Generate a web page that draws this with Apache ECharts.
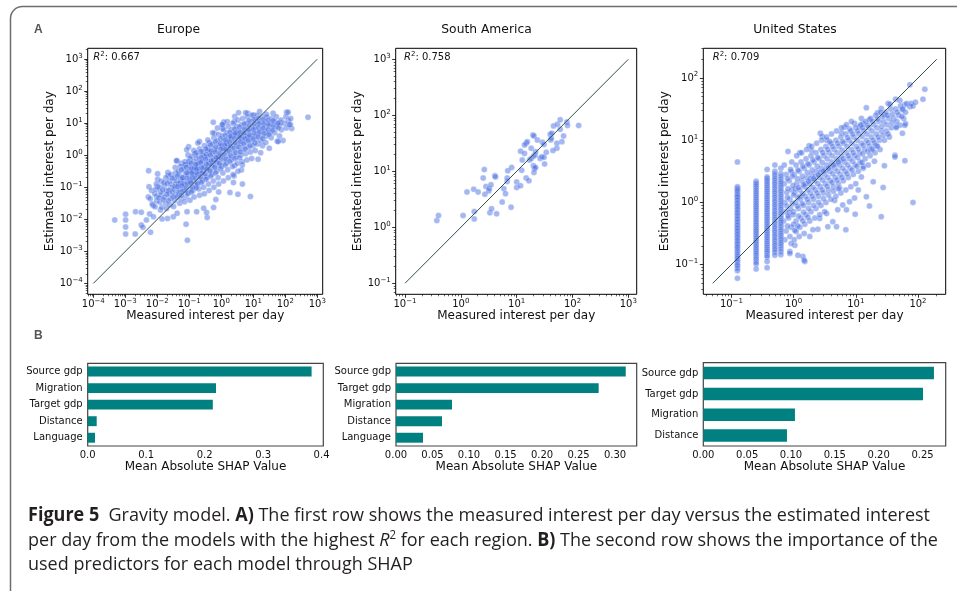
<!DOCTYPE html>
<html>
<head>
<meta charset="utf-8">
<script src="https://cdn.jsdelivr.net/npm/echarts@6/dist/echarts.min.js"></script>
<style>
  html, body { margin: 0; padding: 0; background: #fff; }
  #chart { width: 957px; height: 591px; }
</style>
</head>
<body>
<div id="chart"></div>
<script>
// ---- data (scatter points are stored as [log10 measured, log10 estimated]) ----
const regions = ['Europe', 'South America', 'United States']
const r2Values = ['0.667', '0.758', '0.709']

const europeLog = [
  [-3.33,-2.02],[-2.99,-1.84],[-2.99,-2.02],[-2.99,-2.24],[-2.99,-2.46],[-2.69,-2.46],[-2.68,-1.76],[-2.5,-1.78],[-2.5,-2.18],[-2.45,-2.25],
  [-2.34,-2.02],[-2.24,-1.83],[-2.28,-1.3],[-2.26,-0.98],[-2.27,-0.48],[-2.21,-2.4],[-1.99,-0.58],[-1.99,-0.75],[-1.99,-0.98],[-2.02,-1.29],
  [-2.13,-1.57],[-2.12,-1.92],[-1.9,-1.71],[-1.85,-1.99],[-1.68,-1.97],[-1.67,-0.54],[-1.66,-0.63],[-1.4,-0.17],[-1.44,-0.38],[-1.5,-1.92],
  [-1.38,-1.81],[-1.1,-2.15],[-1.06,-2.65],[-1.07,-1.76],[-0.77,-1.76],[-0.55,-1.65],[-0.44,-1.94],[-0.46,-1.79],[-0.24,-1.63],[-0.17,-1.38],
  [-0.08,-1.15],[0.27,-1.16],[0.52,-1.22],[0.66,-0.9],[0.91,-1.29],[0.38,-0.85],[0.4,-0.65],[0.63,-0.46],[0.66,-0.3],[0.42,-0.32],
  [1.15,-0.12],[1.23,0.08],[1.5,0.22],[1.75,0.44],[1.93,0.46],[2.2,0.84],[2.16,0.96],[2.1,1.08],[2.04,1.34],[2.71,1.19],
  [1.84,1.02],[1.62,1.31],[1.41,1.28],[1.2,1.37],[1.01,1.26],[0.83,1.31],[0.76,1.33],[0.54,1.33],[0.42,1.21],[0.4,1.05],
  [0.19,1.05],[0.08,1.04],[0.04,0.96],[-0.25,1.03],[0.04,0.84],[-0.21,0.69],[-0.42,0.48],[-0.68,0.43],[-0.73,0.38],[-1.02,0.27],
  [-1.08,0.17],[-1.04,0.01],[-1.39,-0.17],[-1.25,-0.25],[-1.15,-0.3],[-0.92,-0.04],[-0.81,-0.46],[2.09,1.34],[1.78,0.43],
  [-2.18,-1.1],[-2.22,-1.36],[-2.16,-1.52],[-2.03,-0.9],[-2.08,-1.2],[-2.02,-1.43],[-2.07,-1.61],[-2.04,-1.06],
  [-1.88,-0.81],[-1.93,-1.0],[-1.87,-1.24],[-1.92,-1.46],[-1.9,-1.15],[-1.86,-1.62],
  [-1.73,-0.7],[-1.78,-0.95],[-1.72,-1.1],[-1.77,-1.31],[-1.74,-1.5],[-1.79,-0.85],[-1.71,-1.66],
  [-1.58,-0.6],[-1.62,-0.8],[-1.57,-1.01],[-1.63,-1.19],[-1.59,-1.35],[-1.61,-1.55],[-1.56,-0.9],[-1.64,-1.1],
  [-1.43,-0.55],[-1.47,-0.71],[-1.42,-0.9],[-1.48,-1.05],[-1.44,-1.25],[-1.46,-1.41],[-1.41,-0.8],[-1.49,-1.6],[-1.45,-0.98],
  [-1.28,-0.35],[-1.32,-0.6],[-1.27,-0.76],[-1.33,-0.9],[-1.29,-1.05],[-1.31,-1.2],[-1.26,-1.36],[-1.34,-0.5],[-1.3,-1.5],[-1.28,-0.86],
  [-1.13,-0.3],[-1.17,-0.45],[-1.12,-0.6],[-1.18,-0.8],[-1.14,-0.95],[-1.16,-1.1],[-1.11,-1.3],[-1.19,-0.7],[-1.15,-1.45],[-1.13,-0.2],[-1.17,-0.9],
  [-0.98,-0.1],[-1.02,-0.3],[-0.97,-0.45],[-1.03,-0.6],[-0.99,-0.75],[-1.01,-0.9],[-0.96,-1.05],[-1.04,-1.2],[-1.0,-0.5],[-0.98,-1.4],[-1.02,-0.2],[-0.97,-0.8],
  [-0.83,0.05],[-0.87,-0.2],[-0.82,-0.35],[-0.88,-0.5],[-0.84,-0.65],[-0.86,-0.8],[-0.81,-0.95],[-0.89,-1.1],[-0.85,-1.3],[-0.83,-0.4],[-0.87,-0.6],[-0.86,0.15],
  [-0.68,0.2],[-0.72,0.0],[-0.67,-0.15],[-0.73,-0.3],[-0.69,-0.45],[-0.71,-0.6],[-0.66,-0.75],[-0.74,-0.9],[-0.7,-1.05],[-0.68,-1.25],[-0.72,-0.25],[-0.69,-0.5],
  [-0.53,0.3],[-0.57,0.1],[-0.52,-0.05],[-0.58,-0.2],[-0.54,-0.35],[-0.56,-0.5],[-0.51,-0.65],[-0.59,-0.8],[-0.55,-1.0],[-0.53,-1.2],[-0.57,0.0],[-0.54,-0.4],
  [-0.38,0.4],[-0.42,0.25],[-0.37,0.1],[-0.43,-0.05],[-0.39,-0.2],[-0.41,-0.35],[-0.36,-0.5],[-0.44,-0.7],[-0.4,-0.9],[-0.38,-1.1],[-0.42,0.15],[-0.39,-0.25],
  [-0.23,0.55],[-0.27,0.35],[-0.22,0.2],[-0.28,0.05],[-0.24,-0.1],[-0.26,-0.25],[-0.21,-0.4],[-0.29,-0.6],[-0.25,-0.8],[-0.23,-1.0],[-0.27,0.7],[-0.24,-0.15],
  [-0.08,0.65],[-0.12,0.45],[-0.07,0.3],[-0.13,0.15],[-0.09,0.0],[-0.11,-0.15],[-0.06,-0.3],[-0.14,-0.5],[-0.1,-0.7],[-0.08,-0.9],[-0.12,0.85],[-0.09,-0.05],
  [0.07,0.8],[0.03,0.6],[0.08,0.45],[0.02,0.3],[0.06,0.15],[0.04,0.0],[0.09,-0.15],[0.01,-0.35],[0.05,-0.55],[0.07,-0.8],[0.03,0.95],[0.06,0.2],
  [0.22,0.9],[0.18,0.7],[0.23,0.55],[0.17,0.4],[0.21,0.25],[0.19,0.1],[0.24,-0.05],[0.16,-0.25],[0.2,-0.45],[0.22,-0.7],[0.18,0.35],
  [0.37,1.0],[0.33,0.8],[0.38,0.65],[0.32,0.5],[0.36,0.35],[0.34,0.2],[0.39,0.05],[0.31,-0.15],[0.35,-0.35],[0.37,-0.6],[0.33,0.6],
  [0.52,1.1],[0.48,0.9],[0.53,0.75],[0.47,0.6],[0.51,0.45],[0.49,0.3],[0.54,0.15],[0.46,-0.05],[0.5,-0.25],[0.52,-0.5],[0.48,0.7],
  [0.67,1.15],[0.63,0.95],[0.68,0.8],[0.62,0.65],[0.66,0.5],[0.64,0.35],[0.69,0.2],[0.61,0.0],[0.65,-0.2],[0.63,0.55],
  [0.82,1.2],[0.78,1.0],[0.83,0.85],[0.77,0.7],[0.81,0.55],[0.79,0.4],[0.84,0.25],[0.76,0.05],[0.8,-0.15],[0.82,0.6],
  [0.97,1.25],[0.93,1.05],[0.98,0.9],[0.92,0.75],[0.96,0.6],[0.94,0.45],[0.99,0.3],[0.91,0.1],[0.95,-0.1],
  [1.12,1.25],[1.08,1.1],[1.13,0.95],[1.07,0.8],[1.11,0.65],[1.09,0.5],[1.14,0.35],[1.06,0.15],
  [1.27,1.2],[1.23,1.05],[1.28,0.9],[1.22,0.75],[1.26,0.6],[1.24,0.45],[1.29,0.3],
  [1.42,1.2],[1.38,1.05],[1.43,0.9],[1.37,0.75],[1.41,0.6],[1.39,0.4],
  [1.57,1.15],[1.53,1.0],[1.58,0.85],[1.52,0.7],[1.56,0.55],
  [1.72,1.2],[1.68,1.05],[1.73,0.9],[1.67,0.7],
  [1.87,1.1],[1.83,0.95],[1.88,0.8],[1.82,0.6],
  [2.02,1.2],[1.98,1.0],[2.03,0.85],[2.17,1.15],[2.13,0.95],
  [-1.95,-1.32],[-1.83,-1.08],[-1.81,-1.38],[-1.69,-0.88],[-1.7,-1.22],[-1.65,-1.42],[-1.53,-0.72],[-1.52,-1.15],[-1.51,-1.3],[-1.37,-0.65],
  [-1.36,-0.98],[-1.35,-1.15],[-1.38,-1.3],[-1.24,-0.45],[-1.22,-0.7],[-1.23,-0.95],[-1.21,-1.12],[-1.25,-1.25],
  [-1.09,-0.38],[-1.08,-0.55],[-1.07,-0.72],[-1.06,-0.88],[-1.1,-1.02],[-1.05,-1.18],[-0.94,-0.25],[-0.93,-0.4],[-0.92,-0.55],[-0.91,-0.7],
  [-0.95,-0.85],[-0.9,-1.0],[-0.93,-1.15],[-0.78,-0.1],[-0.79,-0.28],[-0.77,-0.42],[-0.76,-0.58],[-0.8,-0.72],[-0.75,-0.88],[-0.78,-1.02],[-0.79,0.08],
  [-0.63,0.12],[-0.62,-0.08],[-0.64,-0.22],[-0.61,-0.38],[-0.6,-0.55],[-0.65,-0.68],[-0.62,-0.85],[-0.48,0.2],[-0.47,0.02],[-0.49,-0.12],
  [-0.46,-0.28],[-0.45,-0.43],[-0.5,-0.58],[-0.48,-0.75],[-0.33,0.32],[-0.32,0.14],[-0.34,0.0],[-0.31,-0.17],[-0.3,-0.32],[-0.35,-0.48],
  [-0.33,-0.65],[-0.18,0.42],[-0.17,0.26],[-0.19,0.1],[-0.16,-0.06],[-0.15,-0.22],[-0.2,-0.37],[-0.18,-0.55],[-0.02,0.52],[-0.03,0.36],
  [-0.01,0.2],[-0.04,0.05],[0.0,-0.1],[-0.05,-0.25],[-0.02,-0.42],
  [0.12,0.62],[0.13,0.48],[0.11,0.32],[0.14,0.18],[0.1,0.02],[0.15,-0.12],[0.12,-0.3],[0.27,0.72],[0.28,0.58],[0.26,0.42],
  [0.29,0.28],[0.25,0.12],[0.3,-0.02],[0.27,-0.2],[0.42,0.82],[0.43,0.68],[0.41,0.52],[0.44,0.38],[0.4,0.22],[0.45,0.08],
  [0.42,-0.1],[0.57,0.88],[0.58,0.72],[0.56,0.58],[0.59,0.42],[0.55,0.26],[0.6,0.1],[0.57,-0.08],[0.72,0.98],[0.73,0.82],
  [0.71,0.68],[0.74,0.52],[0.7,0.36],[0.75,0.2],
  [0.87,1.08],[0.88,0.92],[0.86,0.78],[0.89,0.62],[0.85,0.46],[0.9,0.3],[1.02,1.12],[1.03,0.98],[1.01,0.82],[1.04,0.68],
  [1.0,0.52],[1.05,0.38],[1.17,1.15],[1.18,1.0],[1.16,0.86],[1.19,0.72],[1.15,0.58],[1.32,1.12],[1.33,0.98],[1.31,0.84],
  [1.34,0.68],[1.3,0.52],[1.47,1.1],[1.48,0.95],[1.46,0.8],[1.49,0.65],[1.62,1.08],[1.63,0.92],[1.61,0.78],[1.77,1.0],[1.78,0.85]
]

const southAmericaLog = [
  [-0.43,0.12],[-0.40,0.21],[0.04,0.21],[0.24,0.28],[0.24,0.15],[0.52,0.26],[0.55,0.33],[0.64,0.24],[0.74,0.45],[0.90,0.36],
  [0.11,0.63],[0.23,0.68],[0.31,0.63],[0.43,0.59],[0.45,0.73],[0.50,0.65],[0.51,0.69],[0.54,0.76],[0.40,0.88],[0.42,1.03],
  [0.61,0.92],[0.62,0.90],[0.77,0.69],[0.80,0.60],[0.83,0.82],[0.83,0.88],[0.84,1.01],[0.91,1.07],[1.00,0.81],[1.00,0.71],
  [1.07,0.74],[1.09,1.02],[1.17,0.88],[1.22,0.83],[1.10,1.20],[1.07,1.36],[1.14,1.32],[1.17,1.50],[1.19,1.53],[1.14,1.47],
  [1.26,1.41],[1.29,1.65],[1.31,1.63],[1.37,1.56],[1.23,1.20],[1.26,1.23],[1.30,1.27],[1.33,1.29],[1.34,1.35],[1.30,1.10],
  [1.32,1.05],[1.31,0.98],[1.34,1.07],[1.42,1.23],[1.45,1.26],[1.49,1.25],[1.50,1.13],[1.46,1.52],[1.49,1.48],[1.53,1.34],
  [1.60,1.66],[1.63,1.68],[1.61,1.56],[1.62,1.59],[1.66,1.81],[1.73,1.84],[1.78,1.92],[1.78,1.75],[1.84,1.63],[1.81,1.53],
  [1.72,1.50],[1.72,1.41],[1.65,1.37],[1.90,1.88],[1.91,1.82],[2.11,1.82]
]

// United States: measured values of the small regions sit on fixed steps (1/8 per day)
const usColumnX = [0.125, 0.25, 0.375, 0.5, 0.625]
const usColumnLogY = [
  [0.65,0.25,0.23,0.21,0.19,0.17,0.14,0.12,0.1,0.08,0.05,0.03,0.0,-0.02,-0.05,-0.07,-0.1,-0.12,-0.15,-0.17,-0.2,-0.22,-0.25,-0.27,-0.3,-0.32,-0.35,-0.37,-0.4,
   -0.42,-0.45,-0.47,-0.5,-0.52,-0.55,-0.57,-0.6,-0.62,-0.65,-0.67,-0.7,-0.72,-0.75,-0.78,-0.81,-0.84,-0.87,-0.9,-0.93,-0.96,-1.0,-1.02,-1.06,-1.1,-1.22],
  [0.34,0.31,0.29,0.26,0.23,0.2,0.17,0.14,0.11,0.08,0.05,0.02,-0.01,-0.04,-0.07,-0.1,-0.13,-0.16,-0.19,-0.22,-0.25,-0.28,-0.31,-0.34,-0.37,-0.4,-0.43,
   -0.46,-0.49,-0.52,-0.55,-0.58,-0.61,-0.64,-0.67,-0.7,-0.73,-0.76,-0.79,-0.82,-0.85,-0.89,-0.92,-0.96,-0.99,-1.07],
  [0.53,0.41,0.39,0.36,0.33,0.3,0.27,0.24,0.21,0.18,0.15,0.12,0.09,0.06,0.03,0.0,-0.03,-0.06,-0.09,-0.12,-0.15,-0.18,-0.21,-0.24,-0.27,-0.3,-0.33,-0.36,
   -0.39,-0.42,-0.45,-0.48,-0.51,-0.54,-0.57,-0.6,-0.63,-0.66,-0.69,-0.72,-0.75,-0.78,-0.81,-0.85,-0.88,-0.95,-1.05],
  [0.6,0.5,0.46,0.43,0.39,0.36,0.32,0.29,0.25,0.22,0.18,0.15,0.11,0.08,0.04,0.01,-0.03,-0.06,-0.1,-0.13,-0.17,-0.2,-0.24,-0.27,-0.31,-0.34,-0.38,-0.41,
   -0.45,-0.48,-0.52,-0.55,-0.59,-0.62,-0.66,-0.69,-0.73,-0.76,-0.8,-0.85],
  [0.55,0.46,0.42,0.38,0.34,0.31,0.27,0.24,0.2,0.17,0.13,0.1,0.06,0.03,-0.01,-0.04,-0.08,-0.11,-0.15,-0.18,-0.22,-0.25,-0.29,-0.32,-0.36,-0.39,-0.43,
   -0.46,-0.5,-0.53,-0.57,-0.6,-0.64,-0.67,-0.71,-0.75,-0.79,-0.84]
]
const unitedStatesLog = [
  [-0.09,0.82],[-0.05,0.53],[0.1,0.8],[0.25,0.91],[0.29,0.83],[0.43,1.11],[0.46,1.06],[0.53,1.0],[0.58,0.98],[0.77,1.12],
  [0.82,1.21],[0.9,1.18],[0.98,1.27],[1.06,1.22],[1.12,1.27],[1.17,1.52],[1.22,1.33],[1.35,1.44],[1.41,1.51],[1.46,1.41],
  [1.52,1.59],[1.55,1.58],[1.64,1.66],[1.71,1.64],[1.76,1.49],[1.79,1.57],[1.82,1.59],[1.87,1.54],[1.89,1.59],[1.92,1.55],
  [1.96,1.61],[2.08,1.66],[2.11,1.82],[1.87,1.89],[1.65,1.22],[1.63,0.76],[1.63,0.73],[1.71,1.24],[1.75,1.11],[1.8,1.27],
  [1.79,0.67],[1.46,0.59],[1.44,0.24],[1.92,0.0],[1.22,-0.06],[1.41,-0.23],[0.99,-0.19],[0.85,-0.12],[0.79,-0.04],[1.09,0.41],
  [1.17,0.09],[1.28,0.33],[1.3,0.66],[1.25,0.84],[1.04,0.2],[0.98,0.07],[0.69,-0.39],[0.55,-0.39],[0.39,-0.43],[0.31,-0.44],
  [0.15,-0.87],[0.07,-0.85],[0.02,-0.69],[-0.04,-0.66],[-0.06,-0.79],[0.18,-0.95],[0.04,-0.47],[0.26,-0.55],[0.63,-0.31],[0.42,-0.26],
  [0.9,0.01],[0.71,-0.12],[0.66,0.03],[0.53,-0.18],[0.74,0.23],[1.12,0.58],[1.33,0.92],[0.84,-0.44],[0.17,-0.93],[-0.06,-0.82],[1.79,1.24],
  [-0.12,0.45],[-0.15,0.3],[-0.11,0.16],[-0.14,0.0],[-0.13,-0.15],[-0.16,-0.3],[-0.12,-0.46],[-0.14,-0.6],[-0.15,0.6],
  [-0.04,0.5],[-0.07,0.35],[-0.03,0.2],[-0.06,0.05],[-0.05,-0.1],[-0.08,-0.25],[-0.04,-0.4],[-0.06,-0.55],[-0.03,0.65],[-0.07,-0.16],
  [0.04,0.6],[0.01,0.45],[0.05,0.3],[0.02,0.15],[0.03,0.0],[0.0,-0.15],[0.04,-0.3],[0.02,-0.45],[0.05,0.75],[0.01,-0.6],[0.03,0.22],
  [0.12,0.65],[0.09,0.5],[0.13,0.35],[0.1,0.2],[0.11,0.05],[0.08,-0.1],[0.12,-0.25],[0.1,-0.4],[0.13,0.8],[0.09,-0.55],[0.11,0.1],
  [0.2,0.7],[0.17,0.55],[0.21,0.4],[0.18,0.25],[0.19,0.1],[0.16,-0.05],[0.2,-0.2],[0.18,-0.35],[0.21,0.85],[0.17,-0.5],[0.19,0.3],
  [0.28,0.75],[0.25,0.6],[0.29,0.45],[0.26,0.3],[0.27,0.15],[0.24,0.0],[0.28,-0.15],[0.26,-0.3],[0.29,0.9],[0.27,0.38],
  [0.36,0.8],[0.33,0.65],[0.37,0.5],[0.34,0.35],[0.35,0.2],[0.32,0.05],[0.36,-0.1],[0.34,-0.25],[0.37,0.95],[0.35,0.42],
  [0.44,0.85],[0.41,0.7],[0.45,0.55],[0.42,0.4],[0.43,0.25],[0.4,0.1],[0.44,-0.05],[0.42,-0.2],[0.45,1.0],[0.43,0.48],
  [0.52,0.9],[0.49,0.75],[0.53,0.6],[0.5,0.45],[0.51,0.3],[0.48,0.15],[0.52,0.0],[0.5,-0.15],[0.53,1.05],[0.51,0.52],
  [0.6,0.95],[0.57,0.8],[0.61,0.65],[0.58,0.5],[0.59,0.35],[0.56,0.2],[0.6,0.05],[0.61,1.1],[0.59,0.58],
  [0.68,1.0],[0.65,0.85],[0.69,0.7],[0.66,0.55],[0.67,0.4],[0.64,0.25],[0.68,0.1],[0.69,1.15],[0.67,0.62],
  [0.76,1.05],[0.73,0.9],[0.77,0.75],[0.74,0.6],[0.75,0.45],[0.72,0.3],[0.76,0.15],[0.77,1.2],[0.75,0.68],
  [0.84,1.1],[0.81,0.95],[0.85,0.8],[0.82,0.65],[0.83,0.5],[0.8,0.35],[0.84,0.2],[0.85,1.25],
  [0.92,1.15],[0.89,1.0],[0.93,0.85],[0.9,0.7],[0.91,0.55],[0.88,0.4],[0.92,0.25],[0.93,1.3],
  [1.0,1.2],[0.97,1.05],[1.01,0.9],[0.98,0.75],[0.99,0.6],[0.96,0.45],[1.0,0.3],
  [1.08,1.25],[1.05,1.1],[1.09,0.95],[1.06,0.8],[1.07,0.65],[1.04,0.5],[1.09,1.35],
  [1.16,1.3],[1.13,1.15],[1.17,1.0],[1.14,0.85],[1.15,0.7],[1.12,0.55],
  [1.24,1.35],[1.21,1.2],[1.25,1.05],[1.22,0.9],[1.23,0.75],[1.2,0.6],
  [1.32,1.4],[1.29,1.25],[1.33,1.1],[1.3,0.95],[1.31,0.8],
  [1.4,1.45],[1.37,1.3],[1.41,1.15],[1.38,1.0],[1.39,0.85],
  [1.48,1.45],[1.45,1.3],[1.49,1.15],[1.46,1.0],
  [1.56,1.5],[1.53,1.35],[1.57,1.2],[1.54,1.05],
  [1.64,1.5],[1.61,1.35],[1.65,1.2],[1.72,1.55],[1.69,1.4],[1.8,1.45],[1.77,1.35],
  [-0.1,0.38],[-0.09,0.22],[-0.1,0.08],[-0.11,-0.06],[-0.09,-0.22],[-0.1,-0.38],[-0.02,0.42],[-0.01,0.27],[0.0,0.12],[-0.02,-0.02],
  [-0.01,-0.2],[0.0,-0.35],[0.07,0.52],[0.06,0.38],[0.08,0.24],[0.07,0.08],[0.06,-0.06],[0.08,-0.22],[0.07,-0.38],[0.15,0.58],
  [0.14,0.42],[0.16,0.28],[0.15,0.14],[0.14,-0.02],[0.16,-0.16],[0.15,-0.3],[0.23,0.62],[0.22,0.48],[0.24,0.34],[0.23,0.2],
  [0.22,0.05],[0.24,-0.1],[0.23,-0.24],
  [0.31,0.68],[0.3,0.52],[0.32,0.38],[0.31,0.24],[0.3,0.1],[0.32,-0.05],[0.39,0.72],[0.38,0.58],[0.4,0.44],[0.39,0.3],
  [0.38,0.15],[0.4,0.0],[0.47,0.8],[0.46,0.64],[0.48,0.5],[0.47,0.36],[0.46,0.2],[0.48,0.06],[0.55,0.85],[0.54,0.7],
  [0.56,0.55],[0.55,0.4],[0.54,0.26],[0.56,0.12],[0.63,0.9],[0.62,0.75],[0.64,0.6],[0.63,0.46],[0.62,0.32],[0.64,0.18],
  [0.71,0.95],[0.7,0.8],[0.72,0.65],[0.71,0.5],[0.7,0.36],[0.72,0.22],[0.79,0.98],[0.78,0.84],[0.8,0.7],[0.79,0.55],
  [0.78,0.4],[0.87,1.04],[0.86,0.9],[0.88,0.75],[0.87,0.6],[0.86,0.46],
  [0.95,1.1],[0.94,0.95],[0.96,0.8],[0.95,0.66],[0.94,0.52],[1.03,1.15],[1.02,1.0],[1.04,0.86],[1.03,0.72],[1.02,0.58],
  [1.11,1.2],[1.1,1.06],[1.12,0.92],[1.11,0.78],[1.1,0.64],[1.19,1.24],[1.18,1.1],[1.2,0.96],[1.19,0.82],[1.27,1.3],
  [1.26,1.15],[1.28,1.0],[1.27,0.86],[1.35,1.34],[1.34,1.2],[1.36,1.05],[1.35,0.9],[1.43,1.38],[1.42,1.22],[1.44,1.08],
  [1.51,1.4],[1.5,1.25],[1.52,1.1],[1.59,1.42],[1.58,1.28],[1.67,1.45],[1.66,1.3],[1.75,1.5],[1.74,1.38]
]

// identity line end points (measured = estimated)
const diagonalEnds = [[1e-4, 1e3], [0.1, 1e3], [0.05, 200]]

// decade ticks
const europeTicks = [1e-4, 1e-3, 1e-2, 1e-1, 1, 10, 100, 1000]
const southAmericaTicks = [0.1, 1, 10, 100, 1000]
const unitedStatesTicks = [0.1, 1, 10, 100]

// SHAP importances
const europeFeatures = ['Source gdp', 'Migration', 'Target gdp', 'Distance', 'Language']
const europeShap = [0.383, 0.2195, 0.214, 0.0154, 0.0125]
const southAmericaFeatures = ['Source gdp', 'Target gdp', 'Migration', 'Distance', 'Language']
const southAmericaShap = [0.3147, 0.2776, 0.0767, 0.063, 0.037]
const unitedStatesFeatures = ['Source gdp', 'Target gdp', 'Migration', 'Distance']
const unitedStatesShap = [0.263, 0.2505, 0.1045, 0.0954]
const europeShapTicks = [0, 0.1, 0.2, 0.3, 0.4]
const southAmericaShapTicks = [0, 0.05, 0.1, 0.15, 0.2, 0.25, 0.3]
const unitedStatesShapTicks = [0, 0.05, 0.1, 0.15, 0.2, 0.25]

// caption: [text, style] runs per line (0 plain, 1 bold, 2 italic, 3 superscript)
const captionLines = [
  [['Figure 5', 1], ['  Gravity model. ', 0], ['A)', 1], [' The first row shows the measured interest per day versus the estimated interest', 0]],
  [['per day from the models with the highest ', 0], ['R', 2], ['2', 3], [' for each region. ', 0], ['B)', 1], [' The second row shows the importance of the', 0]],
  [['used predictors for each model through SHAP', 0]]
]

// ---- chart ----
const FONT = 'DejaVu Sans'
const INK = '#111'
const POINT = 'rgba(65,105,225,0.6)'
const CAP_FONT = 'Open Sans'
const CAP_SIZE = 19

const toPoints = (arr) => arr.map(p => [Math.pow(10, p[0]), Math.pow(10, p[1])])
const usPoints = toPoints(unitedStatesLog)
usColumnX.forEach((x, i) => usColumnLogY[i].forEach(ly => usPoints.push([x, Math.pow(10, ly)])))
const scatterData = [toPoints(europeLog), toPoints(southAmericaLog), usPoints]

const scatterBoxes = [
  { left: 87.7, top: 48.3, width: 235, height: 246, x: [-4.175, 3.17], y: [-4.34, 3.34], ticks: europeTicks, nameGap: 27 },
  { left: 395.7, top: 48.3, width: 241, height: 246, x: [-1.167, 3.15], y: [-1.197, 3.197], ticks: southAmericaTicks, nameGap: 27 },
  { left: 703.3, top: 48.3, width: 242.4, height: 246, x: [-1.452, 2.446], y: [-1.478, 2.478], ticks: unitedStatesTicks, nameGap: 24.5 }
]
const barBoxes = [
  { left: 87.7, top: 363.3, width: 235.6, height: 82.7, max: 0.403, ticks: europeShapTicks, digits: 1, cats: europeFeatures, vals: europeShap },
  { left: 396, top: 363.3, width: 240.7, height: 82.7, max: 0.3297, ticks: southAmericaShapTicks, digits: 2, cats: southAmericaFeatures, vals: southAmericaShap },
  { left: 703.3, top: 362.7, width: 242.4, height: 83.3, max: 0.2764, ticks: unitedStatesShapTicks, digits: 2, cats: unitedStatesFeatures, vals: unitedStatesShap }
]

function minorTicks(lo, hi) {
  const out = []
  for (let k = Math.floor(lo) - 1; k <= Math.ceil(hi); k++) {
    for (let m = 2; m <= 9; m++) out.push(m * Math.pow(10, k))
  }
  return out
}

function powLabel(v) {
  const e = Math.round(Math.log10(v))
  return '{b|10}{s|' + (e < 0 ? '\u2212' + (-e) : e) + '}'
}
const powRich = {
  b: { fontSize: 10, fontFamily: FONT, color: INK },
  s: { fontSize: 7, fontFamily: FONT, color: INK, padding: [0, 0, 7, 0] }
}

const grids = []
const xAxes = []
const yAxes = []
const series = []

scatterBoxes.forEach((b, i) => {
  grids.push({ left: b.left, top: b.top, width: b.width, height: b.height, show: true, borderColor: '#000', borderWidth: 1, containLabel: false })
  const xmin = Math.pow(10, b.x[0]), xmax = Math.pow(10, b.x[1])
  const ymin = Math.pow(10, b.y[0]), ymax = Math.pow(10, b.y[1])
  const major = (dim) => ({
    type: 'log', logBase: 10, gridIndex: i,
    min: dim === 'x' ? xmin : ymin, max: dim === 'x' ? xmax : ymax,
    position: dim === 'x' ? 'bottom' : 'left',
    axisLine: { show: false }, splitLine: { show: false },
    axisTick: { customValues: b.ticks, length: 3.5, lineStyle: { color: '#000', width: 0.8 } },
    axisLabel: { customValues: b.ticks, formatter: powLabel, rich: powRich, margin: dim === 'x' ? 3 : 5 },
    name: dim === 'x' ? 'Measured interest per day' : 'Estimated interest per day',
    nameLocation: 'middle', nameGap: dim === 'x' ? 13 : b.nameGap,
    nameTextStyle: { fontFamily: FONT, fontSize: 12, color: INK }
  })
  const minor = (dim) => ({
    type: 'log', logBase: 10, gridIndex: i,
    min: dim === 'x' ? xmin : ymin, max: dim === 'x' ? xmax : ymax,
    position: dim === 'x' ? 'bottom' : 'left', offset: 0,
    axisLine: { show: false }, splitLine: { show: false }, axisLabel: { show: false },
    axisTick: { customValues: minorTicks(dim === 'x' ? b.x[0] : b.y[0], dim === 'x' ? b.x[1] : b.y[1]), length: 2, lineStyle: { color: '#000', width: 0.6 } }
  })
  xAxes.push(major('x'), minor('x'))
  yAxes.push(major('y'), minor('y'))
  series.push({
    type: 'scatter', xAxisIndex: 2 * i, yAxisIndex: 2 * i, data: scatterData[i],
    symbolSize: 6, itemStyle: { color: POINT, borderColor: 'rgba(255,255,255,0.6)', borderWidth: 0.5 },
    silent: true
  })
  series.push({
    type: 'line', xAxisIndex: 2 * i, yAxisIndex: 2 * i,
    data: [[diagonalEnds[i][0], diagonalEnds[i][0]], [diagonalEnds[i][1], diagonalEnds[i][1]]],
    symbol: 'none', lineStyle: { color: '#2f4f4f', width: 1 }, silent: true, z: 3
  })
})

barBoxes.forEach((b, j) => {
  const g = grids.length
  const ax = xAxes.length
  grids.push({ left: b.left, top: b.top, width: b.width, height: b.height, show: true, borderColor: '#444', borderWidth: 1.2, containLabel: false })
  xAxes.push({
    type: 'value', gridIndex: g, min: 0, max: b.max,
    axisLine: { show: false }, splitLine: { show: false },
    axisTick: { customValues: b.ticks, length: 3.5, lineStyle: { color: '#000', width: 0.8 } },
    axisLabel: { customValues: b.ticks, formatter: v => v.toFixed(b.digits), fontFamily: FONT, fontSize: 10, color: INK, margin: 4 },
    name: 'Mean Absolute SHAP Value', nameLocation: 'middle', nameGap: 13,
    nameTextStyle: { fontFamily: FONT, fontSize: 12, color: INK }
  })
  yAxes.push({
    type: 'category', gridIndex: g, data: b.cats, inverse: true,
    axisLine: { show: false }, splitLine: { show: false },
    axisTick: { alignWithLabel: true, length: 3.5, lineStyle: { color: '#000', width: 0.8 } },
    axisLabel: { fontFamily: FONT, fontSize: 10, color: INK, margin: 5 }
  })
  series.push({
    type: 'bar', xAxisIndex: ax, yAxisIndex: ax, data: b.vals,
    barCategoryGap: '40%', itemStyle: { color: '#008080' }, silent: true
  })
})

const titleX = [178.5, 486.5, 795]
const r2X = [93.3, 404, 712.7]
const graphics = [
  { type: 'rect', shape: { x: 10.5, y: 6.5, width: 980, height: 620, r: 12 }, style: { fill: 'none', stroke: '#6e6e6e', lineWidth: 1.5 }, silent: true },
  { type: 'text', x: 34, y: 30, style: { text: 'A', font: 'bold 12px "Liberation Sans"', fill: '#555', verticalAlign: 'middle' } },
  { type: 'text', x: 34, y: 336, style: { text: 'B', font: 'bold 12px "Liberation Sans"', fill: '#555', verticalAlign: 'middle' } }
]
regions.forEach((r, i) => {
  graphics.push({ type: 'text', x: titleX[i], y: 30, style: { text: r, font: '12.3px "DejaVu Sans"', fill: INK, align: 'center', verticalAlign: 'middle' } })
  graphics.push({
    type: 'text', x: r2X[i], y: 57, z: 10,
    style: {
      text: '{i|R}{s|2}: ' + r2Values[i], verticalAlign: 'middle', fill: INK, font: '10px "DejaVu Sans"',
      rich: { i: { fontStyle: 'italic', fontSize: 10, fontFamily: FONT }, s: { fontSize: 7, fontFamily: FONT, padding: [0, 0, 6, 0] } }
    }
  })
})

// caption: horizontally condensed to the reference line width
const runFont = (kind) => (kind === 1 ? 'bold ' : kind === 2 ? 'italic ' : '') + (kind === 3 ? 12 : CAP_SIZE) + 'px "' + CAP_FONT + '"'
const ctx = document.createElement('canvas').getContext('2d')
let firstWidth = 0
captionLines[0].forEach(([t, k]) => { ctx.font = runFont(k); firstWidth += ctx.measureText(t).width })
const capScale = 902 / firstWidth
const tag = ['n', 'b', 'i', 's']
captionLines.forEach((runs, k) => {
  graphics.push({
    type: 'text', x: 28, y: 516 + k * 24.5, scaleX: capScale,
    style: {
      text: runs.map(([t, kind]) => '{' + tag[kind] + '|' + t + '}').join(''),
      verticalAlign: 'middle', fill: '#231f20', font: CAP_SIZE + 'px "' + CAP_FONT + '"',
      rich: {
        n: { fontSize: CAP_SIZE, fontFamily: CAP_FONT },
        b: { fontWeight: 'bold', fontSize: CAP_SIZE, fontFamily: CAP_FONT },
        i: { fontStyle: 'italic', fontSize: CAP_SIZE, fontFamily: CAP_FONT },
        s: { fontSize: 12, fontFamily: CAP_FONT, padding: [0, 0, 10, 0] }
      }
    }
  })
})

const chart = echarts.init(document.getElementById('chart'), null, { renderer: 'canvas' })
chart.setOption({
  animation: false,
  backgroundColor: '#fff',
  textStyle: { fontFamily: FONT },
  grid: grids,
  xAxis: xAxes,
  yAxis: yAxes,
  series: series,
  graphic: graphics
})
</script>
</body>
</html>
